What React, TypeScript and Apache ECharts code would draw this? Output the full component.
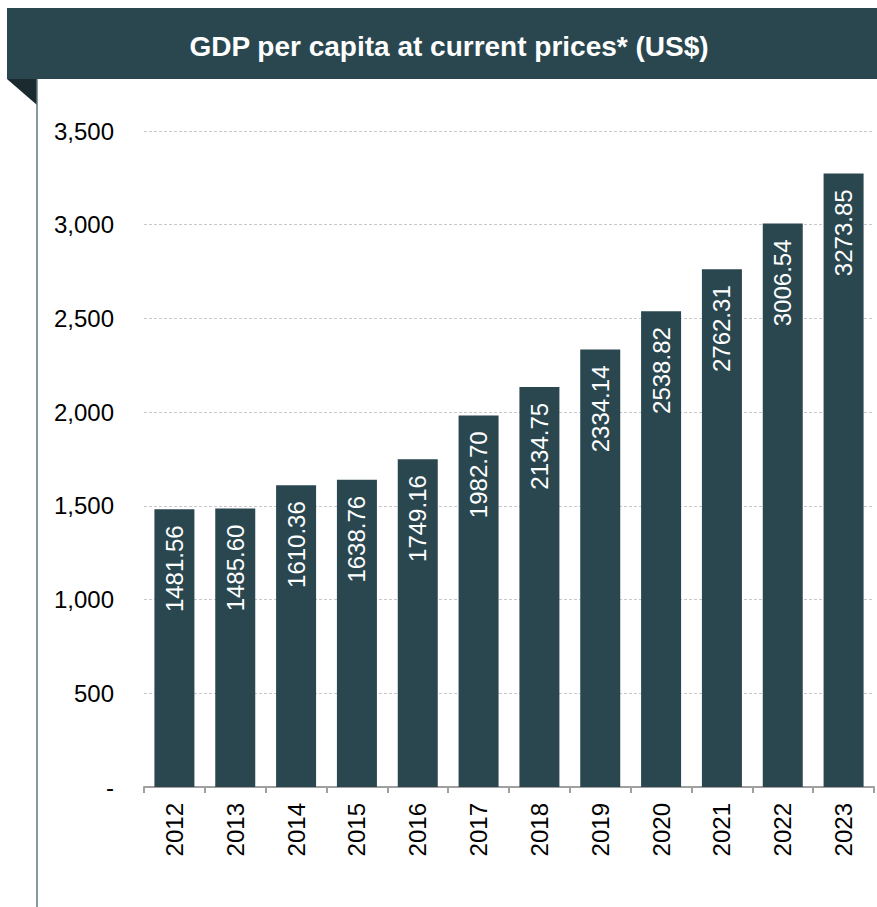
import React, { useEffect, useRef } from "react";
import * as echarts from "echarts";

const years = ["2012", "2013", "2014", "2015", "2016", "2017", "2018", "2019", "2020", "2021", "2022", "2023"];
const gdpPerCapita = [1481.56, 1485.6, 1610.36, 1638.76, 1749.16, 1982.7, 2134.75, 2334.14, 2538.82, 2762.31, 3006.54, 3273.85];
const titleText = "GDP per capita at current prices* (US$)";

const FONT = "'Liberation Sans', Arial, sans-serif";
const DARK = "#2a4750";

export default function App() {
  const ref = useRef<HTMLDivElement>(null);
  useEffect(() => {
    if (!ref.current) return;
    const chart = echarts.init(ref.current, null, { renderer: "svg" });
    chart.setOption({
      animation: false,
      backgroundColor: "#ffffff",
      textStyle: { fontFamily: FONT },
      graphic: [
        { type: "rect", shape: { x: 7, y: 8, width: 870, height: 71 }, style: { fill: DARK } },
        { type: "polygon", shape: { points: [[7, 79], [37, 79], [37, 105]] }, style: { fill: "#1a2a2f" } },
        { type: "line", shape: { x1: 37, y1: 79, x2: 37, y2: 907 }, style: { stroke: "#5f7880", lineWidth: 1.5 } },
        {
          type: "text",
          x: 449,
          y: 46,
          style: {
            text: titleText,
            fill: "#ffffff",
            font: `bold 28px ${FONT}`,
            align: "center",
            verticalAlign: "middle",
          },
        },
      ],
      grid: { left: 144, right: 3, top: 131, bottom: 120 },
      xAxis: {
        type: "category",
        data: years,
        axisLine: { lineStyle: { color: "#a0a0a0", width: 2 } },
        axisTick: { show: true, length: 6, lineStyle: { color: "#a0a0a0", width: 2 } },
        axisLabel: {
          rotate: 90,
          color: "#000",
          fontSize: 24,
          fontFamily: FONT,
          margin: 16,
        },
      },
      yAxis: {
        type: "value",
        min: 0,
        max: 3500,
        interval: 500,
        axisLine: { show: false },
        axisTick: { show: false },
        splitLine: { lineStyle: { color: "#c8c8c8", type: [3, 2], width: 1 } },
        axisLabel: {
          color: "#000",
          fontSize: 24,
          fontFamily: FONT,
          margin: 30,
          formatter: (v: number) => (v === 0 ? "-" : v.toLocaleString("en-US")),
        },
      },
      series: [
        {
          type: "bar",
          data: gdpPerCapita,
          barWidth: 40,
          itemStyle: { color: DARK },
          label: {
            show: true,
            position: "insideTop",
            rotate: 90,
            align: "right",
            verticalAlign: "middle",
            distance: 16,
            color: "#ffffff",
            fontSize: 24,
            fontFamily: FONT,
            formatter: (p: any) => p.value.toFixed(2),
          },
        },
      ],
    });
    return () => chart.dispose();
  }, []);
  return (
    <div
      ref={ref}
      style={{ position: "fixed", left: 0, top: 0, width: 877, height: 907 }}
    />
  );
}
